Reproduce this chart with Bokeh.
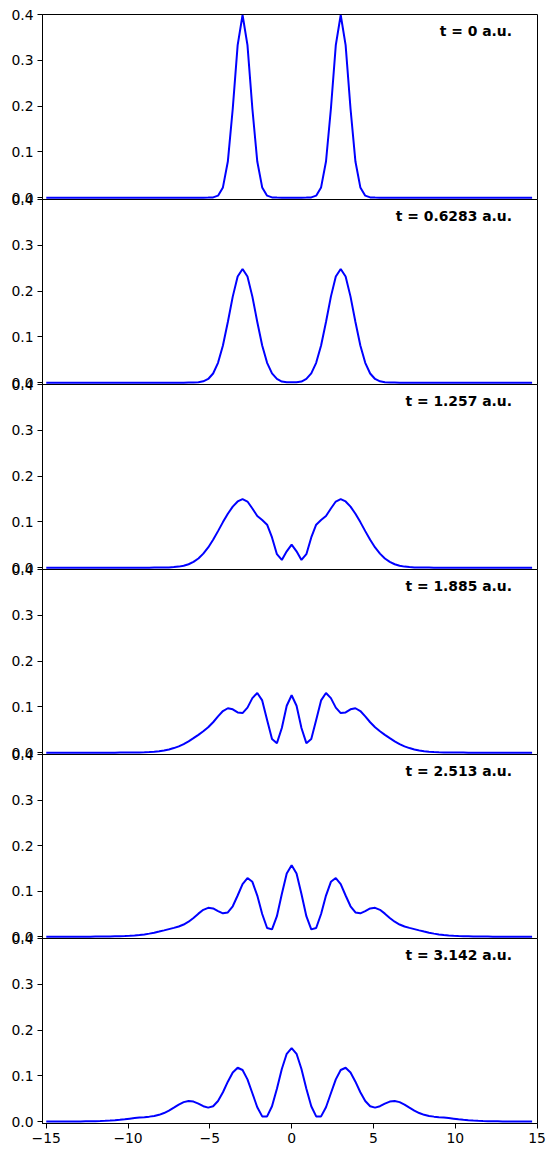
from bokeh.plotting import figure
from bokeh.layouts import column
from bokeh.models import Range1d, FixedTicker, PrintfTickFormatter, Label
from bokeh.embed import file_html
from bokeh.resources import INLINE

# sampling grid of the wavefunction (x in a.u.)
X = [round(-15 + 0.3 * i, 1) for i in range(100)]

# probability density |psi|^2, one list per time step
P1 = [0, 0, 0, 0, 0, 0, 0, 0, 0, 0,
      0, 0, 0, 0, 0, 0, 0, 0, 0, 0,
      0, 0, 0, 0, 0, 0, 0, 0, 0, 0,
      0, 0, 0,
      0.0001, 0.0006, 0.0044, 0.0224, 0.0789, 0.1942, 0.3332, 0.3989, 0.3332, 0.1942,
      0.0789, 0.0224, 0.0044, 0.0006, 0.0001, 0, 0,
      0, 0, 0, 0.0001, 0.0006, 0.0044, 0.0224, 0.0789, 0.1942, 0.3332,
      0.3989, 0.3332, 0.1942, 0.0789, 0.0224, 0.0044, 0.0006, 0.0001,
      0, 0, 0, 0, 0, 0, 0, 0, 0, 0,
      0, 0, 0, 0, 0, 0, 0, 0, 0, 0,
      0, 0, 0, 0, 0, 0, 0, 0, 0, 0,
      0, 0]

P2 = [0, 0, 0, 0, 0, 0, 0, 0, 0, 0,
      0, 0, 0, 0, 0, 0, 0, 0, 0, 0,
      0, 0, 0, 0, 0, 0, 0, 0, 0,
      0.0001, 0.0002, 0.0009, 0.0029, 0.0081, 0.0201, 0.0434, 0.0813, 0.1326, 0.1879,
      0.2317, 0.2484, 0.2317, 0.1879, 0.1326, 0.0813, 0.0433, 0.0202, 0.0083, 0.0025,
      0.0008,
      0.0009, 0.0008, 0.0025, 0.0083, 0.0202, 0.0433, 0.0813, 0.1326, 0.1879, 0.2317,
      0.2484, 0.2317, 0.1879, 0.1326, 0.0813, 0.0434, 0.0201, 0.0081, 0.0029, 0.0009,
      0.0002, 0.0001,
      0, 0, 0, 0, 0, 0, 0, 0, 0, 0,
      0, 0, 0, 0, 0, 0, 0, 0, 0, 0,
      0, 0, 0, 0, 0, 0, 0, 0]

P3 = [0, 0, 0, 0, 0, 0, 0, 0, 0, 0,
      0, 0, 0, 0, 0, 0, 0, 0, 0, 0,
      0, 0,
      0.0001, 0.0001, 0.0003, 0.0006, 0.0012, 0.0023, 0.0043, 0.0075, 0.0126, 0.0201,
      0.0306, 0.0442, 0.0609, 0.0798, 0.0995, 0.1178, 0.1332, 0.1446, 0.1496, 0.1444,
      0.1291, 0.1129, 0.1042, 0.0939, 0.0660, 0.0295, 0.0169, 0.0357,
      0.0504, 0.0357, 0.0169, 0.0295, 0.0660, 0.0939, 0.1042, 0.1129, 0.1291, 0.1444,
      0.1496, 0.1446, 0.1332, 0.1178, 0.0995, 0.0798, 0.0609, 0.0442, 0.0306, 0.0201,
      0.0126, 0.0075, 0.0043, 0.0023, 0.0012, 0.0006, 0.0003, 0.0001, 0.0001,
      0, 0, 0, 0, 0, 0, 0, 0, 0, 0,
      0, 0, 0, 0, 0, 0, 0, 0, 0, 0,
      0]

P4 = [0, 0, 0, 0, 0, 0, 0, 0, 0, 0,
      0, 0, 0, 0, 0,
      0.0001, 0.0001, 0.0002, 0.0003, 0.0006, 0.0009, 0.0014, 0.0022, 0.0033, 0.0049,
      0.0071, 0.0100, 0.0138, 0.0188, 0.0248, 0.0316, 0.0389, 0.0467, 0.0555, 0.0664,
      0.0792, 0.0909, 0.0970, 0.0946, 0.0878, 0.0864, 0.0983, 0.1191, 0.1304, 0.1141,
      0.0716, 0.0298, 0.0208, 0.0539, 0.1025,
      0.1253, 0.1025, 0.0539, 0.0208, 0.0298, 0.0716, 0.1141, 0.1304, 0.1191, 0.0983,
      0.0864, 0.0878, 0.0946, 0.0970, 0.0909, 0.0792, 0.0664, 0.0555, 0.0467, 0.0389,
      0.0316, 0.0248, 0.0188, 0.0138, 0.0100, 0.0071, 0.0049, 0.0033, 0.0022, 0.0014,
      0.0009, 0.0006, 0.0003, 0.0002, 0.0001, 0.0001,
      0, 0, 0, 0, 0, 0, 0, 0, 0, 0,
      0, 0, 0, 0]

P5 = [0, 0, 0, 0, 0, 0, 0,
      0.0001, 0.0001, 0.0001, 0.0002, 0.0002, 0.0004, 0.0005, 0.0008, 0.0011, 0.0015,
      0.0020, 0.0028, 0.0037, 0.0050, 0.0067, 0.0088, 0.0113, 0.0139, 0.0166, 0.0193,
      0.0224, 0.0267, 0.0328, 0.0412, 0.0506, 0.0590, 0.0633, 0.0620, 0.0563, 0.0513,
      0.0533, 0.0668, 0.0904, 0.1156, 0.1287, 0.1205, 0.0902, 0.0497, 0.0191, 0.0160,
      0.0450, 0.0939, 0.1388,
      0.1569, 0.1388, 0.0939, 0.0450, 0.0160, 0.0191, 0.0497, 0.0902, 0.1205, 0.1287,
      0.1156, 0.0904, 0.0668, 0.0533, 0.0513, 0.0563, 0.0620, 0.0633, 0.0590, 0.0506,
      0.0412, 0.0328, 0.0267, 0.0224, 0.0193, 0.0166, 0.0139, 0.0113, 0.0088, 0.0067,
      0.0050, 0.0037, 0.0028, 0.0020, 0.0015, 0.0011, 0.0008, 0.0005, 0.0004, 0.0002,
      0.0002, 0.0001, 0.0001, 0.0001,
      0, 0, 0, 0, 0, 0]

P6 = [0.0001, 0.0001, 0.0001, 0.0002, 0.0002, 0.0003, 0.0004, 0.0005, 0.0007, 0.0008,
      0.0011, 0.0014, 0.0018, 0.0024, 0.0032, 0.0042, 0.0053, 0.0066, 0.0078, 0.0089,
      0.0099, 0.0110, 0.0125, 0.0149, 0.0188, 0.0242, 0.0307, 0.0374, 0.0427, 0.0451,
      0.0438, 0.0393, 0.0337, 0.0307, 0.0337, 0.0451, 0.0643, 0.0873, 0.1075, 0.1178,
      0.1129, 0.0924, 0.0620, 0.0315, 0.0115, 0.0115, 0.0336, 0.0719, 0.1149, 0.1482,
      0.1608, 0.1482, 0.1149, 0.0719, 0.0336, 0.0115, 0.0115, 0.0315, 0.0620, 0.0924,
      0.1129, 0.1178, 0.1075, 0.0873, 0.0643, 0.0451, 0.0337, 0.0307, 0.0337, 0.0393,
      0.0438, 0.0451, 0.0427, 0.0374, 0.0307, 0.0242, 0.0188, 0.0149, 0.0125, 0.0110,
      0.0099, 0.0089, 0.0078, 0.0066, 0.0053, 0.0042, 0.0032, 0.0024, 0.0018, 0.0014,
      0.0011, 0.0008, 0.0007, 0.0005, 0.0004, 0.0003, 0.0002, 0.0002, 0.0001, 0.0001]

SERIES = [P1, P2, P3, P4, P5, P6]
TIMES = ["0", "0.6283", "1.257", "1.885", "2.513", "3.142"]
YTICKS = [0, 0.1, 0.2, 0.3, 0.4]
XTICKS = [-15, -10, -5, 0, 5, 10, 15]
XTICK_LABELS = {-15: "\u221215", -10: "\u221210", -5: "\u22125", 0: "0", 5: "5", 10: "10", 15: "15"}

for s in SERIES:
    assert len(s) == len(X), len(s)

FONT = "DejaVu Sans"
FS = "13.9px"
heights = [185, 185, 185, 185, 184, 185]
PAD = 8  # transparent border above/below each panel, overlapped between panels

figs = []
for i, (ys, t) in enumerate(zip(SERIES, TIMES)):
    first = i == 0
    last = i == len(SERIES) - 1
    p = figure(frame_width=495, frame_height=heights[i],
               x_range=Range1d(-15.23, 15.03), y_range=Range1d(-0.004, 0.4),
               output_backend="svg", toolbar_location=None,
               x_axis_location="below" if last else None,
               min_border_left=42, min_border_right=10,
               min_border_top=14 if first else PAD,
               min_border_bottom=PAD,
               background_fill_color="white",
               border_fill_color="white", border_fill_alpha=0,
               outline_line_color="black", outline_line_width=1, outline_line_alpha=1)
    if not first:
        p.styles = {"margin-top": f"-{2 * PAD}px"}
    p.grid.visible = False
    p.line(X, ys, line_color="#0000ff", line_width=2)

    ya = p.yaxis[0]
    ya.ticker = FixedTicker(ticks=YTICKS)
    ya.formatter = PrintfTickFormatter(format="%.1f")
    ya.major_tick_in = 0
    ya.major_tick_out = 5
    ya.minor_tick_line_color = None
    ya.axis_line_color = "black"
    ya.major_tick_line_color = "black"
    ya.major_label_text_font = FONT
    ya.major_label_text_font_size = FS
    ya.major_label_text_color = "black"
    ya.major_label_standoff = 4

    if last:
        xa = p.xaxis[0]
        xa.ticker = FixedTicker(ticks=XTICKS)
        xa.major_label_overrides = XTICK_LABELS
        xa.major_tick_in = 0
        xa.major_tick_out = 5
        xa.minor_tick_line_color = None
        xa.axis_line_color = "black"
        xa.major_tick_line_color = "black"
        xa.major_label_text_font = FONT
        xa.major_label_text_font_size = FS
        xa.major_label_text_color = "black"
        xa.major_label_standoff = 4

    p.add_layout(Label(x=13.47, y=0.363, text=f"t = {t} a.u.",
                       text_align="right", text_baseline="middle",
                       text_font=FONT, text_font_style="bold",
                       text_font_size=FS, text_color="black"))
    figs.append(p)

layout = column(*figs, spacing=0)
open("out.html", "w").write(file_html(layout, INLINE))
